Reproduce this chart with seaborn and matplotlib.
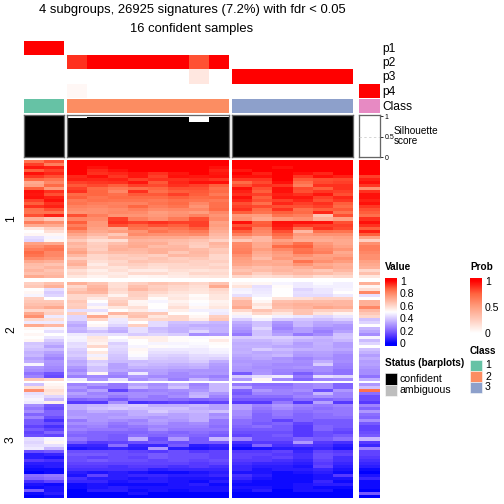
import matplotlib
matplotlib.use("Agg")
import matplotlib.pyplot as plt
from matplotlib.colors import LinearSegmentedColormap, ListedColormap
from matplotlib.cm import ScalarMappable
from matplotlib.colors import Normalize
from matplotlib.patches import Rectangle
import numpy as np
import pandas as pd
import seaborn as sns

# ---- values (percent of "Value"), columns: class1 x2, class2 x8, class3 x6, class4 x1
cluster1 = [
[84,90,100,100,100,100,100,100,100,100,100,100,100,100,100,100,100],
[92,82,100,100,100,100,100,100,100,100,100,100,100,100,100,100,100],
[97,96,100,98,100,100,100,100,100,98,100,100,98,100,100,100,100],
[88,92,100,95,98,100,100,100,100,96,97,100,100,100,100,100,100],
[98,95,100,94,95,97,94,97,100,97,100,96,100,98,95,100,100],
[93,90,95,98,93,97,92,98,97,98,98,98,100,93,98,96,92],
[86,84,96,95,96,92,94,94,95,93,93,93,100,89,90,91,96],
[72,80,92,93,94,97,89,95,98,98,86,91,98,85,91,92,98],
[74,86,89,91,88,92,91,94,92,88,90,94,93,82,94,94,93],
[88,76,92,86,83,85,87,90,90,85,98,90,98,91,88,94,78],
[98,94,94,87,80,94,85,88,89,86,96,88,98,90,93,92,94],
[97,90,86,87,85,89,89,92,88,83,94,92,96,94,97,90,98],
[98,96,88,84,86,86,86,88,86,87,98,88,97,97,92,95,98],
[92,98,83,85,84,84,83,85,84,83,95,90,92,95,90,93,96],
[88,94,84,82,81,81,84,86,80,85,90,85,95,92,94,88,98],
[94,96,81,80,82,87,82,84,77,85,92,91,90,90,92,86,93],
[85,90,79,78,79,82,79,80,80,86,94,86,94,85,88,89,90],
[84,84,77,78,80,79,75,77,75,80,88,84,88,86,95,84,88],
[90,96,90,82,77,77,76,78,81,77,76,75,84,82,65,90,85],
[70,64,80,79,92,82,78,83,90,79,78,72,76,78,70,74,94],
[82,78,88,76,94,92,94,92,92,74,98,88,98,98,98,90,98],
[72,72,82,76,90,87,90,88,92,75,90,89,97,93,92,92,94],
[56,62,86,74,72,84,82,84,88,73,94,82,95,85,94,91,88],
[50,58,78,72,75,77,84,81,83,71,88,80,90,68,85,84,96],
[52,52,73,68,64,79,78,78,79,68,82,78,86,76,78,78,88],
[44,48,68,63,70,73,72,72,70,66,72,68,82,73,73,74,74],
[42,52,63,58,58,69,68,67,65,61,64,68,74,71,71,72,62],
[74,72,69,62,66,71,71,66,63,69,79,72,78,85,76,72,78],
[78,82,67,63,69,72,67,68,62,67,80,72,86,88,78,74,82],
[82,84,71,62,70,68,70,69,67,63,81,75,80,84,80,77,82],
[86,80,74,65,67,67,70,64,68,64,82,72,76,85,82,72,80],
[84,80,68,60,62,64,62,68,67,60,78,70,74,78,74,74,78],
[79,77,62,60,63,62,65,62,64,60,75,67,76,74,75,78,78],
[72,70,68,58,60,65,64,63,61,62,74,72,71,84,78,75,74],
[67,65,70,55,61,62,59,60,61,59,73,71,72,77,72,70,72],
[66,69,64,58,57,60,58,60,60,61,68,66,68,71,74,71,70],
[69,65,58,54,58,55,55,58,57,58,65,67,69,67,64,68,60],
[66,67,60,56,55,59,59,56,60,59,68,62,66,68,67,64,66],
[72,69,56,53,56,52,53,55,56,57,60,58,59,62,58,60,56],
]
cluster2 = [
[62,66,70,65,58,62,65,63,60,65,53,52,48,46,49,47,70],
[64,70,60,68,58,66,62,60,58,72,57,44,51,46,47,47,52],
[50,44,64,70,60,68,63,59,57,60,47,45,50,42,45,48,58],
[52,40,67,68,58,62,60,57,56,58,48,46,50,44,45,50,80],
[48,42,60,60,53,62,56,55,51,56,44,47,50,43,43,46,44],
[62,50,60,55,59,60,51,56,52,56,62,50,57,58,61,61,50],
[64,64,64,50,62,52,48,53,50,53,68,52,66,67,67,68,70],
[66,66,62,46,64,53,50,55,49,54,68,57,68,70,69,68,70],
[68,72,63,52,56,58,50,58,52,56,72,54,67,69,73,71,80],
[60,60,44,44,50,55,48,54,47,47,60,65,62,65,62,62,68],
[72,62,62,52,68,64,64,50,50,46,53,60,56,65,57,53,64],
[78,46,42,72,56,66,56,60,52,62,47,51,47,45,42,45,60],
[60,58,42,60,46,58,60,60,55,64,41,47,40,39,38,41,38],
[46,46,36,50,45,50,43,38,39,36,34,38,30,36,33,34,42],
[72,68,33,52,42,62,43,36,34,34,32,38,28,36,32,30,50],
[52,48,36,44,36,44,37,35,37,35,30,42,26,31,28,29,36],
[50,44,35,38,34,44,38,35,42,35,28,38,29,31,25,32,33],
[52,50,46,44,44,40,42,40,28,30,24,38,32,24,28,38,28],
[50,45,48,56,50,54,54,51,49,51,40,41,41,39,36,39,48],
[52,40,47,55,47,50,54,51,50,55,36,36,38,35,34,36,37],
[39,36,43,53,41,50,48,48,49,51,34,34,36,31,35,31,42],
[40,32,44,60,43,48,51,49,48,50,35,35,33,32,34,31,50],
[38,37,41,50,42,52,46,46,46,48,34,40,37,35,34,33,38],
[35,32,39,56,41,51,44,44,46,47,35,33,34,31,32,30,35],
[36,29,40,47,39,49,42,41,43,44,33,34,36,30,31,27,31],
[32,26,37,54,38,46,40,39,42,41,31,33,29,26,29,27,34],
[34,30,33,40,37,37,38,38,40,34,30,30,30,28,34,28,31],
[48,29,34,42,32,38,36,35,36,31,31,29,27,27,40,26,32],
[30,27,30,38,32,35,34,33,34,30,30,28,28,29,28,25,30],
[28,26,27,38,33,31,32,30,29,29,29,29,26,26,28,23,28],
[23,17,31,52,28,46,31,27,30,30,18,30,25,19,25,23,28],
[26,15,25,27,25,30,27,27,27,25,40,44,46,24,44,42,23],
[64,60,46,30,44,28,33,25,36,29,30,52,27,20,26,27,34],
]
cluster3 = [
[38,52,26,30,24,32,28,34,26,36,24,22,22,26,28,20,30],
[58,54,30,24,24,36,30,38,28,36,34,24,24,26,28,20,38],
[78,58,26,32,14,24,26,28,30,36,20,30,26,28,16,30,85],
[44,56,32,26,28,28,28,26,34,30,18,26,26,24,36,26,22],
[46,42,28,28,24,28,24,28,36,26,22,22,22,26,28,26,16],
[48,36,20,22,18,24,24,22,20,22,18,18,18,22,20,22,16],
[46,54,12,12,28,10,12,14,12,14,12,12,24,12,32,12,12],
[28,18,34,36,38,40,34,34,36,32,32,26,30,26,24,26,26],
[24,16,34,38,40,38,38,38,34,32,32,24,28,24,22,24,20],
[28,20,30,34,32,34,40,36,36,38,28,22,24,22,24,24,30],
[20,20,30,30,30,34,34,32,34,28,28,20,24,20,22,24,22],
[26,16,32,30,32,32,30,32,34,30,26,20,22,20,22,22,20],
[18,10,24,30,28,26,32,30,34,24,22,20,14,20,18,18,28],
[18,16,28,28,24,28,30,26,28,24,22,18,20,14,18,18,18],
[14,10,24,26,22,24,26,26,26,22,20,22,18,12,20,18,14],
[18,14,26,24,24,22,28,24,24,24,18,18,18,12,20,16,14],
[14,20,22,20,20,20,22,20,22,20,16,16,16,12,16,14,16],
[16,14,20,20,18,22,20,22,20,18,14,16,18,12,16,18,18],
[44,48,24,20,18,34,16,30,18,36,26,16,16,20,18,22,36],
[42,52,18,12,14,16,18,16,18,18,10,12,12,30,12,10,12],
[44,44,8,8,22,8,8,18,6,8,6,20,10,12,10,6,8],
[46,36,4,6,8,6,30,6,4,6,2,4,6,6,8,4,26],
[16,18,16,16,16,14,12,16,12,14,12,12,14,8,14,12,14],
[6,8,18,18,16,16,18,16,16,14,14,14,12,10,16,14,14],
[6,4,16,14,16,14,18,16,16,14,14,12,14,10,16,10,12],
[12,10,16,18,16,16,14,16,14,16,12,12,10,8,14,10,10],
[6,6,14,14,14,14,14,14,12,14,10,8,8,6,12,8,8],
[4,6,12,12,10,12,12,10,12,10,8,6,6,4,14,6,6],
[2,2,10,10,10,10,6,8,8,8,8,4,6,6,8,4,2],
[0,2,6,4,6,4,2,2,4,6,4,4,2,4,6,2,0],
[22,24,4,14,6,8,8,6,6,8,10,6,2,2,4,12,4],
[20,22,10,6,6,4,6,4,4,4,8,4,2,2,4,4,8],
[10,14,8,8,4,6,6,4,2,6,4,2,2,2,8,2,2],
[4,2,2,4,2,2,2,4,6,2,2,2,2,4,6,6,2],
[2,4,2,4,6,4,4,4,4,4,4,4,2,4,2,2,2],
[18,4,0,6,6,2,4,2,4,4,2,6,0,4,4,0,0],
[2,6,0,0,0,4,0,0,0,0,0,0,0,0,0,0,18],
[0,2,0,0,0,0,0,0,0,0,0,0,0,0,0,0,0],
]
p1 = [1,1, 0,0,0,0,0,0,0,0, 0,0,0,0,0,0, 0]
p2 = [0,0, .88,1,1,1,1,1,.8,1, 0,0,0,0,0,0, 0]
p3 = [0,0, 0,0,0,0,0,0,.12,0, 1,1,1,1,1,1, 0]
p4 = [0,0, .04,0,0,0,0,0,0,0, 0,0,0,0,0,0, 1]
class_ids = [0,0, 1,1,1,1,1,1,1,1, 2,2,2,2,2,2, 3]
silhouette = [1,1, .97,.98,.98,.98,.98,.98,.86,.98, 1,1,1,1,1,1, 0]
class_colors = ["#66C2A5", "#FC8D62", "#8DA0CB", "#E78AC3"]
p_labels = ["p1", "p2", "p3", "p4", "Class"]
title_lines = ["4 subgroups, 26925 signatures (7.2%) with fdr < 0.05", "16 confident samples"]
value_ticks = [0, .2, .4, .6, .8, 1]
prob_ticks = [0, .5, 1]

W, H = 504, 504
sns.set_theme(style="white")
plt.rcParams["font.family"] = ["Liberation Sans", "DejaVu Sans"]
fig = plt.figure(figsize=(W / 72, H / 72), dpi=72)

def pax(x0, y0, x1, y1):
    return fig.add_axes([x0 / W, 1 - y1 / H, (x1 - x0) / W, (y1 - y0) / H])

def txt(x, y, s, **kw):
    kw.setdefault("va", "center")
    kw.setdefault("color", "black")
    fig.text(x / W, 1 - y / H, s, **kw)

value_cmap = LinearSegmentedColormap.from_list("value", [
    (0, "#0000FF"), (.125, "#5B3DFF"), (.25, "#9A7EFF"), (.375, "#CEBEFF"), (.5, "#FFFFFF"),
    (.625, "#FFCDBE"), (.75, "#FF9E80"), (.875, "#FF6540"), (1, "#FF0000")])
prob_cmap = LinearSegmentedColormap.from_list("prob", [
    (0, "#FFFFFF"), (.25, "#FFCDBE"), (.5, "#FF9E80"), (.75, "#FF6540"), (1, "#FF0000")])
value_cmap.set_over("#FF0000"); value_cmap.set_under("#0000FF")
prob_cmap.set_over("#FF0000")

col_groups = [(24, 64, 0, 2), (67, 229, 2, 10), (232, 353, 10, 16), (359, 380, 16, 17)]
row_groups = [(160, 278, cluster1), (282, 381, cluster2), (383, 498, cluster3)]

for x0, x1, c0, c1 in col_groups:
    # probability strips
    ax = pax(x0, 41, x1, 98)
    sns.heatmap(pd.DataFrame([p1[c0:c1], p2[c0:c1], p3[c0:c1], p4[c0:c1]]), vmin=0, vmax=1,
                cmap=prob_cmap, cbar=False, xticklabels=False, yticklabels=False, ax=ax)
    # class strip
    ax = pax(x0, 99, x1, 113)
    sns.heatmap(pd.DataFrame([class_ids[c0:c1]]), vmin=0, vmax=3, cmap=ListedColormap(class_colors),
                cbar=False, xticklabels=False, yticklabels=False, ax=ax)
    # silhouette bars
    ax = pax(x0, 114.5, x1, 157)
    frame = pd.DataFrame({"s": [str(i) for i in range(c0, c1)], "v": silhouette[c0:c1]})
    sns.barplot(frame, x="s", y="v", color="black", width=1, saturation=1, ax=ax)
    for patch in ax.patches:
        patch.set_edgecolor("none")
    ax.set_xlim(-.5, c1 - c0 - .5)
    ax.set_ylim(0, 1.045)
    ax.axhline(.5, color="#cccccc", lw=.8, ls=(0, (3, 3)), zorder=5 if c0 == 16 else 0)
    ax.set_xlabel(""); ax.set_ylabel(""); ax.set_xticks([])
    for sp in ax.spines.values():
        sp.set_visible(True); sp.set_color("#666666"); sp.set_linewidth(1.3)
    if c0 == 16:
        ax.yaxis.tick_right()
        ax.set_yticks([0, .5, 1], ["0", "0.5", "1"], fontsize=7, color="black")
        ax.tick_params(axis="y", right=True, length=3, width=.8, color="black", pad=1.5)
    else:
        ax.set_yticks([])
    # main heat map
    for y0, y1, rows in row_groups:
        ax = pax(x0, y0, x1, y1)
        block = np.array(rows)[:, c0:c1] / 100
        sns.heatmap(pd.DataFrame(block), vmin=0, vmax=1, cmap=value_cmap, cbar=False,
                    xticklabels=False, yticklabels=False, ax=ax)

for s, y in zip(title_lines, [10, 29]):
    txt(192, y, s, ha="center", fontsize=13)
for s, y in zip(p_labels, [49, 63, 77, 92, 107]):
    txt(382.5, y, s, ha="left", fontsize=12)
txt(394, 130.5, "Silhouette", ha="left", fontsize=10)
txt(394, 141, "score", ha="left", fontsize=10)
for s, y in zip(["1", "2", "3"], [219, 330, 440]):
    txt(11, y, s, ha="center", rotation=90, fontsize=12)

# value colour bar
cax = pax(385, 278, 397, 346)
cb = fig.colorbar(ScalarMappable(Normalize(0, 1), value_cmap), cax=cax, extend="both",
                  extendrect=True, extendfrac=3 / 68, ticks=value_ticks)
cb.outline.set_visible(False)
cb.set_ticklabels(["0", "0.2", "0.4", "0.6", "0.8", "1"])
cax.tick_params(axis="y", which="both", direction="in", length=3, width=.8, color="white",
                left=True, right=True, labelsize=10.5, pad=3, labelcolor="black")
txt(385, 267, "Value", ha="left", fontsize=10, fontweight="bold")

# prob colour bar
cax = pax(470, 278, 482, 333)
cb = fig.colorbar(ScalarMappable(Normalize(0, 1), prob_cmap), cax=cax, extend="max",
                  extendrect=True, extendfrac=3 / 55, ticks=prob_ticks)
cb.outline.set_visible(False)
cb.set_ticklabels(["0", "0.5", "1"])
cax.tick_params(axis="y", which="both", direction="in", length=3, width=.8, color="white",
                left=True, right=True, labelsize=10.5, pad=3, labelcolor="black")
txt(470, 267, "Prob", ha="left", fontsize=10, fontweight="bold")

# class legend
txt(470, 351, "Class", ha="left", fontsize=10, fontweight="bold")
for i, (name, col) in enumerate(zip(["1", "2", "3"], class_colors)):
    y = 360 + i * 11
    fig.add_artist(Rectangle((470 / W, 1 - (y + 11) / H), 12 / W, 11 / H, transform=fig.transFigure,
                             facecolor=col, edgecolor="white", lw=.5))
    txt(485, y + 5.5, name, ha="left", fontsize=10.5)

# status legend
txt(385, 363, "Status (barplots)", ha="left", fontsize=10, fontweight="bold")
for i, (name, col) in enumerate(zip(["confident", "ambiguous"], ["black", "#BEBEBE"])):
    y = 373 + i * 11.5
    fig.add_artist(Rectangle((385 / W, 1 - (y + 11.5) / H), 12 / W, 11.5 / H, transform=fig.transFigure,
                             facecolor=col, edgecolor="white", lw=.5))
    txt(400, y + 5.5, name, ha="left", fontsize=10.5)

fig.savefig("out.png", dpi=72)
